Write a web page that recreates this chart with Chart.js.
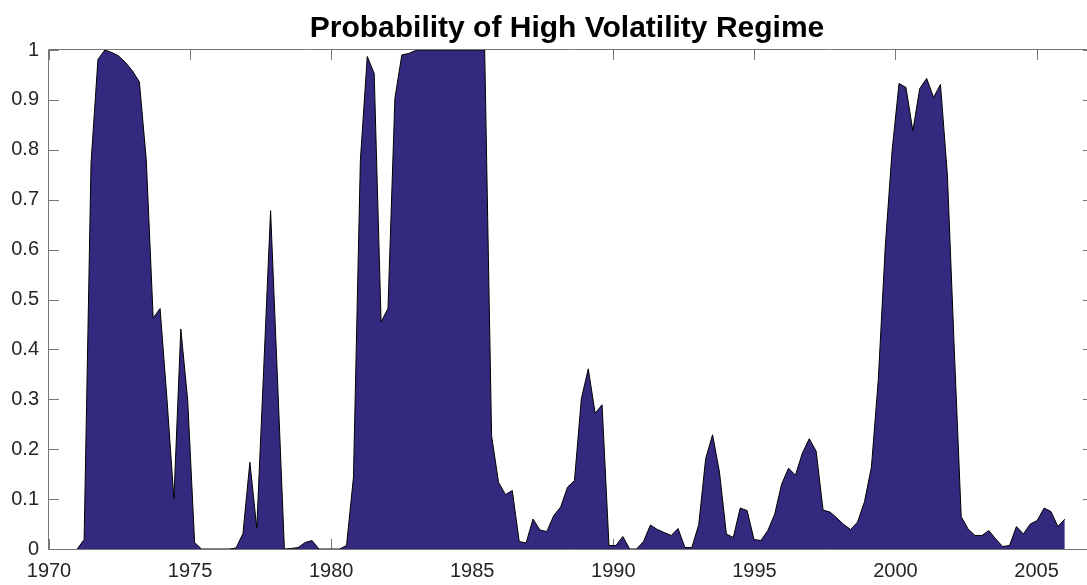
<!DOCTYPE html>
<html>
<head>
<meta charset="utf-8">
<title>Probability of High Volatility Regime</title>
<script src="https://cdn.jsdelivr.net/npm/chart.js@4.4.1/dist/chart.umd.min.js"></script>
<style>
  html, body { margin: 0; padding: 0; background: #fff; }
  #wrap { width: 1087px; height: 585px; overflow: hidden; position: relative; }
  canvas { display: block; }
</style>
</head>
<body>
<div id="wrap"><canvas id="probChart" width="1093" height="585"></canvas></div>
<script>
const chartTitle = 'Probability of High Volatility Regime';

// sample runs evenly from startYear to endYear
const startYear = 1971;
const endYear = 2006;

const yearTicks = [1970, 1975, 1980, 1985, 1990, 1995, 2000, 2005];
const probTicks = [0, 0.1, 0.2, 0.3, 0.4, 0.5, 0.6, 0.7, 0.8, 0.9, 1];

// smoothed probability of the high volatility state
const probHigh = [
  0, 0.019, 0.773, 0.981, 1.0, 0.995, 0.988, 0.975, 0.958, 0.936,
  0.78, 0.463, 0.482, 0.30, 0.10, 0.441, 0.298, 0.013, 0, 0,
  0, 0, 0, 0.002, 0.031, 0.174, 0.042, 0.36, 0.678, 0.34,
  0, 0.001, 0.003, 0.013, 0.017, 0, 0, 0, 0, 0.007,
  0.144, 0.779, 0.987, 0.953, 0.455, 0.482, 0.903, 0.99, 0.993, 0.999,
  1, 1, 1, 1, 1, 1, 1, 1, 1, 1,
  0.227, 0.134, 0.109, 0.117, 0.015, 0.012, 0.06, 0.038, 0.035, 0.067,
  0.084, 0.124, 0.137, 0.301, 0.361, 0.272, 0.289, 0.007, 0.007, 0.025,
  0, 0, 0.015, 0.048, 0.039, 0.033, 0.027, 0.041, 0.003, 0.003,
  0.049, 0.181, 0.229, 0.154, 0.03, 0.023, 0.082, 0.077, 0.019, 0.017,
  0.037, 0.07, 0.13, 0.162, 0.148, 0.192, 0.221, 0.196, 0.078, 0.074,
  0.062, 0.049, 0.039, 0.054, 0.095, 0.164, 0.34, 0.605, 0.799, 0.933,
  0.925, 0.838, 0.923, 0.943, 0.905, 0.931, 0.75, 0.40, 0.065, 0.04,
  0.027, 0.027, 0.037, 0.02, 0.005, 0.007, 0.045, 0.03, 0.05, 0.057,
  0.082, 0.075, 0.045, 0.06
];

const step = (endYear - startYear) / (probHigh.length - 1);
const points = probHigh.map((p, i) => ({ x: startYear + i * step, y: p }));

const axisColor = '#767676';
const labelColor = '#262626';
const tickLen = 10;

// matlab style box with inward ticks, drawn under the area
const boxPlugin = {
  id: 'box',
  beforeDatasetsDraw(chart) {
    const { ctx, chartArea: a, scales } = chart;
    ctx.save();
    ctx.strokeStyle = axisColor;
    ctx.lineWidth = 1;
    ctx.beginPath();
    ctx.rect(a.left - 0.5, a.top - 0.5, a.right - a.left, a.bottom - a.top + 1);
    yearTicks.forEach((v) => {
      const x = Math.round(scales.x.getPixelForValue(v)) + 0.5;
      ctx.moveTo(x, a.bottom);
      ctx.lineTo(x, a.bottom - tickLen);
      ctx.moveTo(x, a.top);
      ctx.lineTo(x, a.top + tickLen);
    });
    probTicks.forEach((v) => {
      const y = Math.round(scales.y.getPixelForValue(v)) + 0.5;
      ctx.moveTo(a.left, y);
      ctx.lineTo(a.left + tickLen, y);
      ctx.moveTo(a.right, y);
      ctx.lineTo(a.right - tickLen, y);
    });
    ctx.stroke();
    ctx.restore();
  },
  afterDraw(chart) {
    const { ctx, chartArea: a } = chart;
    ctx.save();
    ctx.font = 'bold 30px "Liberation Sans", Arial, sans-serif';
    ctx.fillStyle = '#000';
    ctx.textAlign = 'center';
    ctx.textBaseline = 'alphabetic';
    ctx.fillText(chartTitle, (a.left + a.right) / 2 - 4, 37);
    ctx.restore();
  }
};

const ctx = document.getElementById('probChart').getContext('2d');
new Chart(ctx, {
  type: 'line',
  data: {
    datasets: [{
      label: 'High volatility',
      data: points,
      fill: 'origin',
      backgroundColor: 'rgb(51, 42, 128)',
      borderColor: '#000',
      borderWidth: 1,
      pointRadius: 0,
      tension: 0
    }]
  },
  options: {
    responsive: false,
    animation: false,
    devicePixelRatio: 1,
    layout: { padding: { top: 50, left: 0, right: 0, bottom: 0 } },
    plugins: { legend: { display: false }, tooltip: { enabled: false } },
    scales: {
      x: {
        type: 'linear',
        min: 1970,
        max: 2007,
        grid: { display: false, drawTicks: false },
        border: { display: false },
        afterBuildTicks: (axis) => { axis.ticks = yearTicks.map((v) => ({ value: v })); },
        afterFit: (axis) => { axis.height = 36; },
        ticks: {
          padding: 10,
          maxRotation: 0,
          color: labelColor,
          font: { family: '"Liberation Sans", Arial, sans-serif', size: 20 },
          callback: (v) => String(v)
        }
      },
      y: {
        min: 0,
        max: 1,
        grid: { display: false, drawTicks: false },
        border: { display: false },
        afterBuildTicks: (axis) => { axis.ticks = probTicks.map((v) => ({ value: v })); },
        afterFit: (axis) => { axis.width = 49; },
        ticks: {
          padding: 10,
          color: labelColor,
          font: { family: '"Liberation Sans", Arial, sans-serif', size: 20 },
          callback: (v) => String(v)
        }
      }
    }
  },
  plugins: [boxPlugin]
});
</script>
</body>
</html>
